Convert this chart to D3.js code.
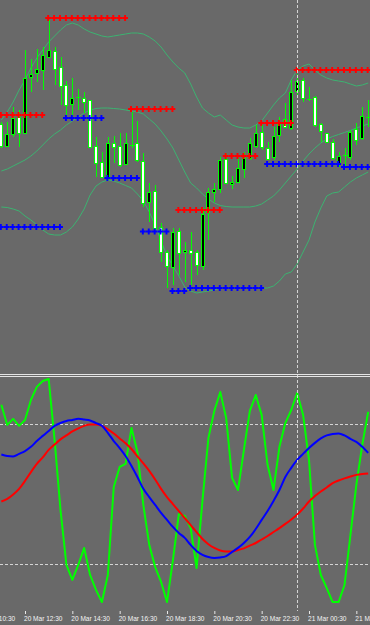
<!DOCTYPE html>
<html>
<head>
<meta charset="utf-8">
<script src="https://cdnjs.cloudflare.com/ajax/libs/d3/7.8.5/d3.min.js"></script>
<style>
  body { margin: 0; background: #696969; }
  svg { display: block; }
</style>
</head>
<body>
<div id="chart"></div>
<script>
// 15 minute bars, first one at 20 Mar 11:30 (prices in points)
var firstBar = "20 Mar 11:30";
var open = [476,454,466,483,467,523,527,530,543,549,533,515,496,502,502,500,454,438,422,457,454,436,455,457,439,398,409,373,348,333,369,348,350,348,334,388,408,411,441,416,418,431,442,454,468,452,443,465,481,472,509,520,501,503,476,467,458,437,445,443,471,462,483];
var high = [478,478,493,490,550,541,551,553,580,553,543,519,522,511,508,500,463,448,463,464,467,467,488,479,447,417,415,377,350,372,372,358,368,350,392,412,417,443,447,424,442,448,462,475,475,458,473,483,497,520,526,522,513,504,477,467,461,448,452,470,477,493,500];
var low = [452,453,463,453,467,508,518,510,543,515,495,485,483,490,487,452,423,422,420,437,433,435,452,438,393,378,370,338,312,315,325,318,315,325,330,360,398,407,416,411,417,422,440,452,450,440,440,458,472,470,505,498,499,473,458,457,440,433,433,440,455,460,473];
var close = [454,466,482,467,522,526,531,545,550,531,514,495,502,503,498,453,437,423,457,453,435,457,455,440,397,408,372,348,334,368,347,350,347,335,386,408,411,440,417,418,432,442,457,467,453,441,464,478,473,508,519,502,501,475,469,458,442,444,445,468,460,484,483];

// bollinger bands
var upper = [480,488,498,510,520,532,542,550,558,564,570,575,577,575,571,568,566,564,563,564,565,566,567,567,566,563,559,553,545,538,532,527,516,503,492,487,483,485,480,475,473,472,472,475,479,487,495,502,507,520,530,534,536,530,525,522,520,519,518,516,514,515,517];
var middle = [429,431,434,437,440,444,449,455,461,466,470,475,479,483,487,490,491.5,492,492,491.5,491,490,489,488,486,481,476,469,461,452,440,428,417,412,406,401,397,394.5,393.5,393,393,393,393,394,396,400,404,410,417,424,431,439,446,452,457,461,463.5,465.5,467.5,469.5,472,474,476];
var lower = [393,392.5,391,389,384,380,375,370,366,365,365,368,373,381,391,405,414,418,420,419,417,414.5,412,406,399,388,375,359,344,334,324,313,309,307,308,309,310,312,312,312,312,312,312,312,312,312,314,319,326,328,336,348,360,378,392,404,407,408,413,418,422,425,428];

// resistance / support dots
var resist = [485,485,485,485,485,485,485,485,
  582,582,582,582,582,582,582,582,582,582,582,582,582,582,
  491,491,491,491,491,491,491,491,
  390,390,390,390,390,390,390,390,
  444,444,444,444,444,444,
  477,477,477,477,477,477,
  530,530,530,530,530,530,530,530,530,530,530,530,530];
var support = [373,373,373,373,373,373,373,373,373,373,373,
  482,482,482,482,482,482,482,
  422,422,422,422,422,422,
  368.5,368.5,368.5,368.5,368.5,
  309,309,309,
  312,312,312,312,312,312,312,312,312,312,312,312,312,
  436,436,436,436,436,436,436,436,436,436,436,436,436,
  433,433,433,433,433];

// lower window
var oscGreen = [88.2,79.6,82.2,79.2,81.7,90.3,95.9,98.4,99.3,73.2,43.2,19.6,13.2,19.6,26.9,15.3,8.9,3.7,15.3,53.0,61.6,62.9,78.3,68.0,45.3,28.2,18.7,12.3,3.7,21.7,41.4,40.6,35.4,18.3,47.4,74.0,85.6,93.7,82.6,56.9,51.7,68.9,85.6,92.4,83.9,62.4,51.7,70.2,80.4,86.0,93.3,83.9,64.6,28.2,15.3,9.7,3.7,3.7,11.0,32.4,53.9,71.0,85.2];
var oscBlue = [66.9,66.3,66.1,67.2,68.4,70.2,72.7,74.9,77.0,79.2,80.4,81.3,81.7,82.2,81.9,81.5,80.4,79.2,76.2,72.7,69.7,66.3,62.0,57.3,52.2,48.7,45.3,41.9,38.9,35.9,33.3,31.2,28.2,25.6,23.9,23.0,22.6,22.8,23.4,25.2,26.9,29.0,31.6,35.0,38.9,42.7,47.0,51.7,57.3,61.2,64.6,67.2,69.7,71.9,73.8,75.1,75.7,75.9,75.1,73.6,72.3,70.2,67.6];
var oscRed = [46.8,47.9,49.8,52.2,55.6,59.4,62.9,65.7,68.9,71.2,73.4,75.1,76.8,78.1,79.2,79.8,79.8,79.2,77.7,75.9,73.8,71.7,69.3,66.1,63.1,59.9,56.2,52.2,48.7,45.7,42.7,39.7,36.7,33.7,30.7,28.5,26.9,25.8,25.4,25.4,26.0,26.7,27.9,29.0,30.5,32.0,33.7,35.4,37.2,39.1,41.2,43.8,46.8,49.1,51.1,52.8,54.7,55.8,56.7,57.5,58.2,58.6,58.8];
var levels = [80, 20];

var tickLabels = ["20 Mar 10:30", "20 Mar 12:30", "20 Mar 14:30", "20 Mar 16:30", "20 Mar 18:30",
  "20 Mar 20:30", "20 Mar 22:30", "21 Mar 00:30", "21 Mar 02:30"];
var daySep = "21 Mar 00:00";

var width = 370, height = 625;
var mainBottom = 373, subTop = 377, subBottom = 611;

var parse = function (s) { return d3.timeParse("%Y %d %b %H:%M")("2019 " + s); };
var t0 = parse(firstBar);
var times = open.map(function (d, i) { return d3.timeMinute.offset(t0, 15 * i); });

var bars = open.map(function (o, i) {
    return { t: times[i], o: o, h: high[i], l: low[i], c: close[i] };
});

var x = d3.scaleTime()
    .domain([parse("20 Mar 12:30"), parse("21 Mar 00:30")])
    .range([25, 309]);
var y = d3.scaleLinear().domain([227, 600]).range([mainBottom, 0]);
var yo = d3.scaleLinear().domain([0, 100]).range([subBottom - 0.3, subTop + 0.3]);

var svg = d3.select("#chart").append("svg")
    .attr("width", width)
    .attr("height", height);

svg.append("rect").attr("width", width).attr("height", height).attr("fill", "#696969");

var defs = svg.append("defs");
defs.append("clipPath").attr("id", "clipTop")
    .append("rect").attr("x", 0).attr("y", 0).attr("width", width).attr("height", mainBottom);
defs.append("clipPath").attr("id", "clipSub")
    .append("rect").attr("x", 0).attr("y", subTop).attr("width", width).attr("height", subBottom - subTop);

var gMain = svg.append("g").attr("clip-path", "url(#clipTop)");
var gSub = svg.append("g").attr("clip-path", "url(#clipSub)");

// day separator and levels (dashed)
svg.append("line")
    .attr("x1", Math.round(x(parse(daySep))) + 0.5).attr("x2", Math.round(x(parse(daySep))) + 0.5)
    .attr("y1", 0).attr("y2", subBottom)
    .attr("stroke", "#d4d4d4").attr("stroke-dasharray", "3,2");
gSub.selectAll("line.level").data(levels).join("line")
    .attr("class", "level")
    .attr("x1", 0).attr("x2", width)
    .attr("y1", d => Math.round(yo(d)) + 0.5).attr("y2", d => Math.round(yo(d)) + 0.5)
    .attr("stroke", "#d4d4d4").attr("stroke-dasharray", "3,2");

// bollinger bands
var bandLine = d3.line().x((d, i) => x(times[i])).y(d => y(d));
gMain.selectAll("path.band").data([upper, middle, lower]).join("path")
    .attr("class", "band")
    .attr("d", bandLine)
    .attr("fill", "none")
    .attr("stroke", "#3cb371")
    .attr("stroke-width", 1);

// candles
function cx(d) { return Math.round(x(d.t)); }
function py(v) { return Math.round(y(v)) + 0.5; }

gMain.selectAll("line.wick").data(bars).join("line")
    .attr("class", "wick")
    .attr("x1", d => cx(d) + 0.5).attr("x2", d => cx(d) + 0.5)
    .attr("y1", d => y(d.h)).attr("y2", d => y(d.l))
    .attr("stroke", "#00ff00");

var bodies = bars.filter(d => Math.abs(d.o - d.c) >= 1.5);
var dojis = bars.filter(d => Math.abs(d.o - d.c) < 1.5);

gMain.selectAll("rect.body").data(bodies).join("rect")
    .attr("class", "body")
    .attr("x", d => cx(d) - 1.5)
    .attr("width", 3)
    .attr("y", d => py(Math.max(d.o, d.c)))
    .attr("height", d => py(Math.min(d.o, d.c)) - py(Math.max(d.o, d.c)))
    .attr("fill", d => d.c > d.o ? "#000000" : "#ffffff")
    .attr("stroke", "#00ff00")
    .attr("stroke-width", 1);

gMain.selectAll("line.doji").data(dojis).join("line")
    .attr("class", "doji")
    .attr("x1", d => cx(d) - 2).attr("x2", d => cx(d) + 3)
    .attr("y1", d => py(d.c)).attr("y2", d => py(d.c))
    .attr("stroke", "#00ff00");

// resistance and support dots
var cross = d3.symbol().type(d3.symbolCross).size(19);
gMain.selectAll("path.res").data(resist).join("path")
    .attr("class", "res")
    .attr("d", cross)
    .attr("transform", (d, i) => "translate(" + (x(times[i]) - 0.5) + "," + y(d) + ")")
    .attr("fill", "#ff0000");
gMain.selectAll("path.sup").data(support).join("path")
    .attr("class", "sup")
    .attr("d", cross)
    .attr("transform", (d, i) => "translate(" + (x(times[i]) - 0.5) + "," + y(d) + ")")
    .attr("fill", "#0000ff");

// window separator
svg.selectAll("line.sep").data([374.5, 376.5]).join("line")
    .attr("class", "sep")
    .attr("x1", 0).attr("x2", width)
    .attr("y1", d => d).attr("y2", d => d)
    .attr("stroke", "#e4e4e4");

// oscillator lines
var oscLine = d3.line().x((d, i) => x(times[i])).y(d => yo(d));
var smoothLine = d3.line().curve(d3.curveMonotoneX).x((d, i) => x(times[i])).y(d => yo(d));
gSub.append("path").datum(oscGreen)
    .attr("d", oscLine)
    .attr("fill", "none").attr("stroke", "#00ff00").attr("stroke-width", 2)
    .attr("stroke-linejoin", "round");
gSub.append("path").datum(oscRed)
    .attr("d", smoothLine)
    .attr("fill", "none").attr("stroke", "#ff0000").attr("stroke-width", 2);
gSub.append("path").datum(oscBlue)
    .attr("d", smoothLine)
    .attr("fill", "none").attr("stroke", "#0000ff").attr("stroke-width", 2);

// time axis (first and last labels run off the edges as in the terminal)
var xAxis = d3.axisBottom(x)
    .tickValues(tickLabels.map(parse))
    .tickFormat(d3.timeFormat("%d %b %H:%M"))
    .tickSize(3)
    .tickSizeOuter(0);
var ax = svg.append("g")
    .attr("transform", "translate(0," + subBottom + ")")
    .call(xAxis);
ax.select(".domain").remove();
ax.attr("font-size", null).attr("font-family", null);
ax.selectAll(".tick line").attr("stroke", "#e8e8e8");
ax.selectAll(".tick text")
    .attr("text-anchor", "start")
    .attr("x", -1.5)
    .attr("y", 10)
    .attr("dy", null)
    .attr("fill", "#f4f4f4")
    .style("font-family", "'Liberation Sans', Arial, sans-serif")
    .style("font-size", "7.8px")
    .attr("textLength", 38.5)
    .attr("lengthAdjust", "spacingAndGlyphs");
</script>
</body>
</html>
